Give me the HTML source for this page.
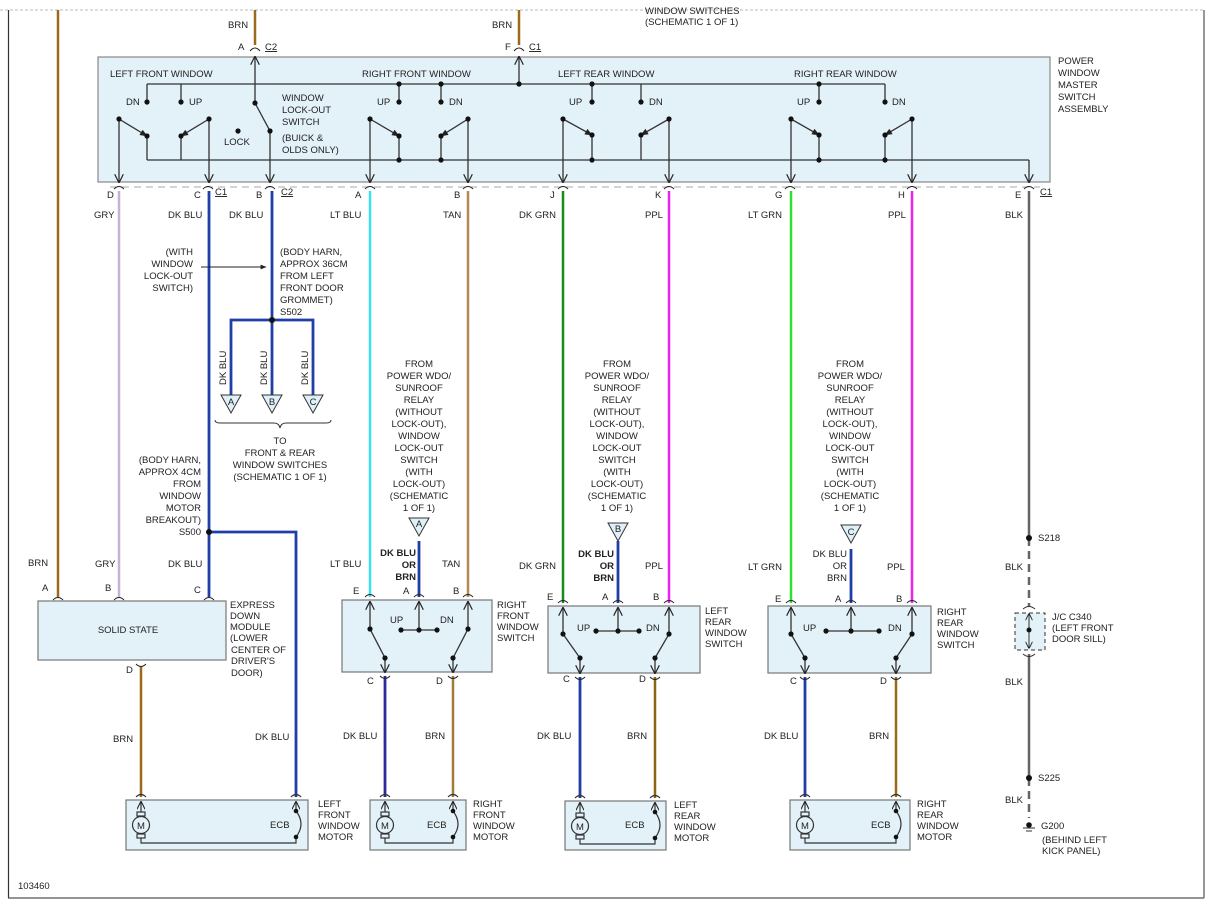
<!DOCTYPE html>
<html><head><meta charset="utf-8">
<style>
html,body{margin:0;padding:0;background:#fff;}
svg{display:block;}
text{font-family:"Liberation Sans",Arial,sans-serif;font-size:9.5px;fill:#222;}
.b{font-weight:bold;}
</style></head><body>
<svg width="1221" height="909" viewBox="0 0 1221 909" xmlns="http://www.w3.org/2000/svg">
<defs>
<marker id="ar" viewBox="0 0 10 10" refX="9" refY="5" markerWidth="7" markerHeight="7" orient="auto-start-reverse"><path d="M0,0 L10,5 L0,10" fill="none" stroke="#222" stroke-width="1.3"/></marker>
<marker id="af" viewBox="0 0 10 10" refX="9" refY="5" markerWidth="6" markerHeight="6" orient="auto"><path d="M0,1 L10,5 L0,9 z" fill="#222"/></marker>
</defs>
<!-- frame -->
<line x1="0" y1="10" x2="1204" y2="10" stroke="#bbb" stroke-dasharray="3,2"/>
<line x1="8.5" y1="10" x2="8.5" y2="898" stroke="#333" stroke-width="1.2"/>
<line x1="1204" y1="10" x2="1204" y2="898" stroke="#555" stroke-width="1.2"/>
<line x1="8" y1="898" x2="1204" y2="898" stroke="#555" stroke-width="1.2"/>
<text x="645" y="14">WINDOW SWITCHES</text>
<text x="645" y="25">(SCHEMATIC 1 OF 1)</text>

<!-- master switch box -->
<rect x="98" y="57" width="952" height="125" fill="#e3f1f8" stroke="#888" stroke-width="1.2"/>
<text x="1058" y="64">POWER</text><text x="1058" y="76">WINDOW</text><text x="1058" y="88">MASTER</text><text x="1058" y="100">SWITCH</text><text x="1058" y="112">ASSEMBLY</text>
<line x1="110" y1="187" x2="1040" y2="187" stroke="#aaa" stroke-dasharray="7,5"/>

<!-- top incoming wires -->
<line x1="255" y1="10" x2="255" y2="45" stroke="#9a6a1a" stroke-width="2.5"/>
<line x1="519" y1="10" x2="519" y2="45" stroke="#9a6a1a" stroke-width="2.5"/>
<text x="228" y="28">BRN</text><text x="492" y="28">BRN</text>
<text x="238" y="50">A</text><text x="265" y="50" text-decoration="underline">C2</text>
<text x="505" y="50">F</text><text x="529" y="50" text-decoration="underline">C1</text>
<path d="M250,51 q5,-6 10,0 M514,51 q5,-6 10,0" fill="none" stroke="#222"/>

<!-- internal circuitry -->
<g stroke="#333" stroke-width="1.3" fill="none">
<line x1="147" y1="84" x2="885" y2="84"/>
<line x1="147" y1="84" x2="147" y2="102"/>
<line x1="885" y1="84" x2="885" y2="102"/>
<line x1="147" y1="160" x2="1029" y2="160"/>
<line x1="1029" y1="160" x2="1029" y2="182" marker-end="url(#ar)"/>
<line x1="181" y1="84" x2="181" y2="102"/>
<line x1="119" y1="119" x2="147" y2="136" marker-end="url(#af)"/>
<line x1="119" y1="119" x2="119" y2="182" marker-end="url(#ar)"/>
<line x1="147" y1="136" x2="147" y2="160"/>
<line x1="209" y1="119" x2="181" y2="136" marker-end="url(#af)"/>
<line x1="209" y1="119" x2="209" y2="182" marker-end="url(#ar)"/>
<line x1="181" y1="136" x2="181" y2="160"/>
<line x1="255" y1="103" x2="255" y2="57" marker-end="url(#ar)"/>
<line x1="255" y1="103" x2="270" y2="131"/>
<line x1="270" y1="131" x2="270" y2="182" marker-end="url(#ar)"/>
<line x1="519" y1="84" x2="519" y2="57" marker-end="url(#ar)"/>
<line x1="399" y1="84" x2="399" y2="102"/><line x1="441" y1="84" x2="441" y2="102"/>
<line x1="370" y1="119" x2="399" y2="136" marker-end="url(#af)"/>
<line x1="370" y1="119" x2="370" y2="182" marker-end="url(#ar)"/>
<line x1="399" y1="136" x2="399" y2="160"/>
<line x1="468" y1="119" x2="441" y2="136" marker-end="url(#af)"/>
<line x1="468" y1="119" x2="468" y2="182" marker-end="url(#ar)"/>
<line x1="441" y1="136" x2="441" y2="160"/>
<line x1="592" y1="84" x2="592" y2="102"/><line x1="641" y1="84" x2="641" y2="102"/>
<line x1="563" y1="119" x2="592" y2="135" marker-end="url(#af)"/>
<line x1="563" y1="119" x2="563" y2="182" marker-end="url(#ar)"/>
<line x1="592" y1="135" x2="592" y2="160"/>
<line x1="669" y1="119" x2="641" y2="135" marker-end="url(#af)"/>
<line x1="669" y1="119" x2="669" y2="182" marker-end="url(#ar)"/>
<line x1="641" y1="135" x2="641" y2="160"/>
<line x1="819" y1="84" x2="819" y2="102"/>
<line x1="791" y1="119" x2="819" y2="135" marker-end="url(#af)"/>
<line x1="791" y1="119" x2="791" y2="182" marker-end="url(#ar)"/>
<line x1="819" y1="135" x2="819" y2="160"/>
<line x1="912" y1="119" x2="885" y2="135" marker-end="url(#af)"/>
<line x1="912" y1="119" x2="912" y2="182" marker-end="url(#ar)"/>
<line x1="885" y1="135" x2="885" y2="160"/>
</g>
<g fill="#111">
<circle cx="147" cy="102" r="2.6"/><circle cx="181" cy="102" r="2.6"/><circle cx="119" cy="119" r="2.6"/><circle cx="147" cy="136" r="2.6"/><circle cx="209" cy="119" r="2.6"/><circle cx="181" cy="136" r="2.6"/>
<circle cx="238" cy="131" r="2.6"/><circle cx="255" cy="103" r="2.6"/><circle cx="270" cy="131" r="2.6"/>
<circle cx="399" cy="84" r="2.6"/><circle cx="441" cy="84" r="2.6"/><circle cx="519" cy="84" r="2.6"/>
<circle cx="399" cy="102" r="2.6"/><circle cx="441" cy="102" r="2.6"/><circle cx="370" cy="119" r="2.6"/><circle cx="399" cy="136" r="2.6"/><circle cx="468" cy="119" r="2.6"/><circle cx="441" cy="136" r="2.6"/><circle cx="399" cy="160" r="2.6"/><circle cx="441" cy="160" r="2.6"/>
<circle cx="592" cy="84" r="2.6"/><circle cx="592" cy="102" r="2.6"/><circle cx="641" cy="102" r="2.6"/><circle cx="563" cy="119" r="2.6"/><circle cx="592" cy="135" r="2.6"/><circle cx="669" cy="119" r="2.6"/><circle cx="641" cy="135" r="2.6"/><circle cx="592" cy="160" r="2.6"/>
<circle cx="819" cy="84" r="2.6"/><circle cx="819" cy="102" r="2.6"/><circle cx="885" cy="102" r="2.6"/><circle cx="791" cy="119" r="2.6"/><circle cx="819" cy="135" r="2.6"/><circle cx="912" cy="119" r="2.6"/><circle cx="885" cy="135" r="2.6"/><circle cx="819" cy="160" r="2.6"/><circle cx="885" cy="160" r="2.6"/>
</g>
<text x="110" y="77">LEFT FRONT WINDOW</text>
<text x="362" y="77">RIGHT FRONT WINDOW</text>
<text x="558" y="77">LEFT REAR WINDOW</text>
<text x="794" y="77">RIGHT REAR WINDOW</text>
<text x="126" y="105">DN</text><text x="189" y="105">UP</text>
<text x="377" y="105">UP</text><text x="449" y="105">DN</text>
<text x="569" y="105">UP</text><text x="649" y="105">DN</text>
<text x="797" y="105">UP</text><text x="892" y="105">DN</text>
<text x="224" y="145">LOCK</text>
<text x="282" y="101">WINDOW</text><text x="282" y="113">LOCK-OUT</text><text x="282" y="125">SWITCH</text><text x="282" y="141">(BUICK &amp;</text><text x="282" y="153">OLDS ONLY)</text>

<g>
<text x="107" y="198">D</text><text x="194" y="198">C</text><text x="215" y="195" text-decoration="underline">C1</text>
<text x="256" y="198">B</text><text x="281" y="195" text-decoration="underline">C2</text>
<text x="355" y="198">A</text><text x="454" y="198">B</text><text x="550" y="198">J</text><text x="655" y="198">K</text>
<text x="775" y="198">G</text><text x="898" y="198">H</text><text x="1015" y="198">E</text><text x="1040" y="195" text-decoration="underline">C1</text>
</g>
<path d="M114,189 q5,-5 10,0 M203,189 q5,-5 10,0 M265,189 q5,-5 10,0 M365,189 q5,-5 10,0 M463,189 q5,-5 10,0 M558,189 q5,-5 10,0 M664,189 q5,-5 10,0 M785,189 q5,-5 10,0 M907,189 q5,-5 10,0 M1024,189 q5,-5 10,0" fill="none" stroke="#222"/>

<!-- boxes drawn before wires -->
<rect x="342" y="600" width="150" height="72" fill="#e3f1f8" stroke="#777" stroke-width="1.2"/>
<rect x="548" y="606" width="152" height="67" fill="#e3f1f8" stroke="#777" stroke-width="1.2"/>
<rect x="768" y="606" width="163" height="67" fill="#e3f1f8" stroke="#777" stroke-width="1.2"/>

<!-- wires -->
<line x1="58" y1="10" x2="58" y2="597" stroke="#9a6a1a" stroke-width="2.5"/>
<line x1="119" y1="191" x2="119" y2="597" stroke="#c9b0d6" stroke-width="2.5"/>
<line x1="209" y1="191" x2="209" y2="597" stroke="#1f3fa8" stroke-width="2.8"/>
<polyline points="209,532 296,532 296,797" fill="none" stroke="#1f3fa8" stroke-width="2.8"/>
<line x1="272" y1="191" x2="272" y2="320" stroke="#1f3fa8" stroke-width="2.8"/>
<polyline points="231,397 231,320 313,320 313,397" fill="none" stroke="#1f3fa8" stroke-width="2.8"/>
<line x1="272" y1="320" x2="272" y2="397" stroke="#1f3fa8" stroke-width="2.8"/>
<line x1="370" y1="191" x2="370" y2="597" stroke="#3fe0ee" stroke-width="2.5"/>
<line x1="468" y1="191" x2="468" y2="597" stroke="#b38a56" stroke-width="2.5"/>
<line x1="419" y1="541" x2="419" y2="597" stroke="#1f3fa8" stroke-width="2.8"/>
<line x1="563" y1="191" x2="563" y2="603" stroke="#188a18" stroke-width="2.5"/>
<line x1="669" y1="191" x2="669" y2="603" stroke="#ee22ee" stroke-width="2.5"/>
<line x1="618" y1="541" x2="618" y2="603" stroke="#1f3fa8" stroke-width="2.8"/>
<line x1="791" y1="191" x2="791" y2="603" stroke="#33dd33" stroke-width="2.5"/>
<line x1="912" y1="191" x2="912" y2="603" stroke="#ee22ee" stroke-width="2.5"/>
<line x1="851" y1="549" x2="851" y2="603" stroke="#1f3fa8" stroke-width="2.8"/>
<line x1="1029" y1="191" x2="1029" y2="538" stroke="#666" stroke-width="2.5"/>
<line x1="1029" y1="538" x2="1029" y2="607" stroke="#666" stroke-width="2.5" stroke-dasharray="8,5"/>
<line x1="1029" y1="654" x2="1029" y2="778" stroke="#666" stroke-width="2.5"/>
<line x1="1029" y1="778" x2="1029" y2="818" stroke="#666" stroke-width="2.5" stroke-dasharray="8,5"/>
<line x1="141" y1="667" x2="141" y2="797" stroke="#9a6a1a" stroke-width="2.5"/>
<line x1="385" y1="676" x2="385" y2="797" stroke="#2a2a9a" stroke-width="2.8"/>
<line x1="453" y1="676" x2="453" y2="797" stroke="#a07c3a" stroke-width="2.5"/>
<line x1="580" y1="677" x2="580" y2="798" stroke="#1f3fa8" stroke-width="2.8"/>
<line x1="655" y1="677" x2="655" y2="798" stroke="#8b6414" stroke-width="2.5"/>
<line x1="805" y1="677" x2="805" y2="797" stroke="#1f3fa8" stroke-width="2.8"/>
<line x1="896" y1="677" x2="896" y2="797" stroke="#9a6a1a" stroke-width="2.5"/>

<text x="94" y="218">GRY</text><text x="168" y="218">DK BLU</text><text x="229" y="218">DK BLU</text>
<text x="330" y="218">LT BLU</text><text x="443" y="218">TAN</text><text x="519" y="218">DK GRN</text>
<text x="645" y="218">PPL</text><text x="748" y="218">LT GRN</text><text x="888" y="218">PPL</text><text x="1005" y="218">BLK</text>

<g text-anchor="end">
<text x="193" y="255">(WITH</text><text x="193" y="267">WINDOW</text><text x="193" y="279">LOCK-OUT</text><text x="193" y="291">SWITCH)</text>
<text x="201" y="463">(BODY HARN,</text><text x="201" y="475">APPROX 4CM</text><text x="201" y="487">FROM</text><text x="201" y="499">WINDOW</text><text x="201" y="511">MOTOR</text><text x="201" y="523">BREAKOUT)</text><text x="201" y="535">S500</text>
</g>
<line x1="201" y1="267" x2="266" y2="267" stroke="#222" marker-end="url(#af)"/>
<text x="280" y="255">(BODY HARN,</text><text x="280" y="267">APPROX 36CM</text><text x="280" y="279">FROM LEFT</text><text x="280" y="291">FRONT DOOR</text><text x="280" y="303">GROMMET)</text><text x="280" y="315">S502</text>
<circle cx="272" cy="320" r="3" fill="#111"/><circle cx="209" cy="532" r="3" fill="#111"/>
<g font-size="9">
<text transform="translate(226,385) rotate(-90)">DK BLU</text>
<text transform="translate(267,385) rotate(-90)">DK BLU</text>
<text transform="translate(308,385) rotate(-90)">DK BLU</text>
</g>
<g fill="#dff0f8" stroke="#333">
<path d="M221,395 L241,395 L231,413 z"/><path d="M262,395 L282,395 L272,413 z"/><path d="M303,395 L323,395 L313,413 z"/>
<path d="M409,518 L429,518 L419,536 z"/><path d="M608,523 L628,523 L618,541 z"/><path d="M841,525 L861,525 L851,543 z"/>
</g>
<g text-anchor="middle" font-size="8">
<text x="231" y="405">A</text><text x="272" y="405">B</text><text x="313" y="405">C</text>
<text x="419" y="527">A</text><text x="618" y="532">B</text><text x="851" y="535">C</text>
</g>
<path d="M215,420 q0,3 5,3 L274,423 q5,0 6,5 q1,-5 6,-5 L326,423 q5,0 5,-3" fill="none" stroke="#333"/>
<g text-anchor="middle">
<text x="280" y="444">TO</text><text x="280" y="456">FRONT &amp; REAR</text><text x="280" y="468">WINDOW SWITCHES</text><text x="280" y="480">(SCHEMATIC 1 OF 1)</text>
</g>

<g text-anchor="middle">
<text x="419" y="367">FROM</text><text x="419" y="379">POWER WDO/</text><text x="419" y="391">SUNROOF</text><text x="419" y="403">RELAY</text><text x="419" y="415">(WITHOUT</text><text x="419" y="427">LOCK-OUT),</text><text x="419" y="439">WINDOW</text><text x="419" y="451">LOCK-OUT</text><text x="419" y="463">SWITCH</text><text x="419" y="475">(WITH</text><text x="419" y="487">LOCK-OUT)</text><text x="419" y="499">(SCHEMATIC</text><text x="419" y="511">1 OF 1)</text>
<text x="617" y="367">FROM</text><text x="617" y="379">POWER WDO/</text><text x="617" y="391">SUNROOF</text><text x="617" y="403">RELAY</text><text x="617" y="415">(WITHOUT</text><text x="617" y="427">LOCK-OUT),</text><text x="617" y="439">WINDOW</text><text x="617" y="451">LOCK-OUT</text><text x="617" y="463">SWITCH</text><text x="617" y="475">(WITH</text><text x="617" y="487">LOCK-OUT)</text><text x="617" y="499">(SCHEMATIC</text><text x="617" y="511">1 OF 1)</text>
<text x="850" y="367">FROM</text><text x="850" y="379">POWER WDO/</text><text x="850" y="391">SUNROOF</text><text x="850" y="403">RELAY</text><text x="850" y="415">(WITHOUT</text><text x="850" y="427">LOCK-OUT),</text><text x="850" y="439">WINDOW</text><text x="850" y="451">LOCK-OUT</text><text x="850" y="463">SWITCH</text><text x="850" y="475">(WITH</text><text x="850" y="487">LOCK-OUT)</text><text x="850" y="499">(SCHEMATIC</text><text x="850" y="511">1 OF 1)</text>
</g>
<g text-anchor="end">
<text class="b" x="416" y="556">DK BLU</text><text class="b" x="416" y="568">OR</text><text class="b" x="416" y="580">BRN</text>
<text class="b" x="614" y="557">DK BLU</text><text class="b" x="614" y="569">OR</text><text class="b" x="614" y="581">BRN</text>
<text x="847" y="557">DK BLU</text><text x="847" y="569">OR</text><text x="847" y="581">BRN</text>
</g>
<text x="330" y="567">LT BLU</text><text x="442" y="567">TAN</text>
<text x="519" y="569">DK GRN</text><text x="645" y="569">PPL</text>
<text x="748" y="570">LT GRN</text><text x="887" y="570">PPL</text>
<text x="28" y="566">BRN</text><text x="95" y="567">GRY</text><text x="168" y="567">DK BLU</text>

<text x="42" y="591">A</text><text x="105" y="591">B</text><text x="194" y="593">C</text>
<path d="M53,600 q5,-5 10,0 M114,600 q5,-5 10,0 M204,600 q5,-5 10,0" fill="none" stroke="#222"/>
<rect x="38" y="601" width="188" height="59" fill="#e3f1f8" stroke="#777" stroke-width="1.2"/>
<text x="128" y="633" text-anchor="middle">SOLID STATE</text>
<text x="230" y="608">EXPRESS</text><text x="230" y="619">DOWN</text><text x="230" y="630">MODULE</text><text x="230" y="641">(LOWER</text><text x="231" y="653">CENTER OF</text><text x="231" y="664">DRIVER'S</text><text x="231" y="676">DOOR)</text>
<text x="126" y="673">D</text>
<path d="M136,664 q5,5 10,0" fill="none" stroke="#222"/>
<text x="113" y="742">BRN</text><text x="255" y="740">DK BLU</text>

<text x="353" y="594">E</text><text x="403" y="594">A</text><text x="453" y="594">B</text>
<path d="M365,597 q5,-5 10,0 M414,597 q5,-5 10,0 M463,597 q5,-5 10,0" fill="none" stroke="#222"/>
<g stroke="#333" stroke-width="1.3" fill="none">
<line x1="370" y1="629" x2="370" y2="602" marker-end="url(#ar)"/><line x1="370" y1="629" x2="385" y2="658"/><line x1="385" y1="658" x2="385" y2="672" marker-end="url(#ar)"/>
<line x1="468" y1="629" x2="468" y2="602" marker-end="url(#ar)"/><line x1="468" y1="629" x2="453" y2="658"/><line x1="453" y1="658" x2="453" y2="672" marker-end="url(#ar)"/>
<line x1="401" y1="630" x2="437" y2="630"/><line x1="419" y1="630" x2="419" y2="602" marker-end="url(#ar)"/>
<path d="M380,676 q5,5 10,0 M448,676 q5,5 10,0" stroke="#222" stroke-width="1"/>
<line x1="563" y1="634" x2="563" y2="608" marker-end="url(#ar)"/><line x1="563" y1="634" x2="580" y2="658"/><line x1="580" y1="658" x2="580" y2="673" marker-end="url(#ar)"/>
<line x1="669" y1="634" x2="669" y2="608" marker-end="url(#ar)"/><line x1="669" y1="634" x2="655" y2="658"/><line x1="655" y1="658" x2="655" y2="673" marker-end="url(#ar)"/>
<line x1="596" y1="631" x2="639" y2="631"/><line x1="618" y1="631" x2="618" y2="608" marker-end="url(#ar)"/>
<path d="M575,677 q5,5 10,0 M650,677 q5,5 10,0" stroke="#222" stroke-width="1"/>
<line x1="791" y1="634" x2="791" y2="608" marker-end="url(#ar)"/><line x1="791" y1="634" x2="805" y2="658"/><line x1="805" y1="658" x2="805" y2="673" marker-end="url(#ar)"/>
<line x1="912" y1="634" x2="912" y2="608" marker-end="url(#ar)"/><line x1="912" y1="634" x2="896" y2="658"/><line x1="896" y1="658" x2="896" y2="673" marker-end="url(#ar)"/>
<line x1="826" y1="631" x2="879" y2="631"/><line x1="851" y1="631" x2="851" y2="608" marker-end="url(#ar)"/>
<path d="M800,677 q5,5 10,0 M891,677 q5,5 10,0" stroke="#222" stroke-width="1"/>
</g>
<text x="547" y="600">E</text><text x="602" y="600">A</text><text x="653" y="600">B</text>
<text x="775" y="602">E</text><text x="835" y="602">A</text><text x="896" y="602">B</text>
<path d="M558,603 q5,-5 10,0 M613,603 q5,-5 10,0 M664,603 q5,-5 10,0 M786,603 q5,-5 10,0 M846,603 q5,-5 10,0 M907,603 q5,-5 10,0" fill="none" stroke="#222"/>
<g fill="#111">
<circle cx="370" cy="629" r="2.6"/><circle cx="385" cy="658" r="2.6"/><circle cx="468" cy="629" r="2.6"/><circle cx="453" cy="658" r="2.6"/><circle cx="401" cy="630" r="2.6"/><circle cx="419" cy="630" r="2.6"/><circle cx="437" cy="630" r="2.6"/>
<circle cx="563" cy="634" r="2.6"/><circle cx="580" cy="658" r="2.6"/><circle cx="669" cy="634" r="2.6"/><circle cx="655" cy="658" r="2.6"/><circle cx="596" cy="631" r="2.6"/><circle cx="618" cy="631" r="2.6"/><circle cx="639" cy="631" r="2.6"/>
<circle cx="791" cy="634" r="2.6"/><circle cx="805" cy="658" r="2.6"/><circle cx="912" cy="634" r="2.6"/><circle cx="896" cy="658" r="2.6"/><circle cx="826" cy="631" r="2.6"/><circle cx="851" cy="631" r="2.6"/><circle cx="879" cy="631" r="2.6"/>
</g>
<text x="390" y="623">UP</text><text x="440" y="623">DN</text>
<text x="577" y="631">UP</text><text x="646" y="631">DN</text>
<text x="803" y="631">UP</text><text x="888" y="631">DN</text>
<text x="497" y="608">RIGHT</text><text x="497" y="619">FRONT</text><text x="497" y="630">WINDOW</text><text x="497" y="641">SWITCH</text>
<text x="705" y="614">LEFT</text><text x="705" y="625">REAR</text><text x="705" y="636">WINDOW</text><text x="705" y="647">SWITCH</text>
<text x="937" y="615">RIGHT</text><text x="937" y="626">REAR</text><text x="937" y="637">WINDOW</text><text x="937" y="648">SWITCH</text>
<text x="367" y="684">C</text><text x="436" y="684">D</text>
<text x="563" y="682">C</text><text x="639" y="682">D</text>
<text x="790" y="684">C</text><text x="880" y="684">D</text>
<text x="343" y="739">DK BLU</text><text x="425" y="739">BRN</text>
<text x="537" y="739">DK BLU</text><text x="627" y="739">BRN</text>
<text x="764" y="739">DK BLU</text><text x="869" y="739">BRN</text>

<g>
<rect x="126" y="800" width="182" height="50" fill="#e3f1f8" stroke="#777" stroke-width="1.2"/>
<rect x="370" y="800" width="96" height="50" fill="#e3f1f8" stroke="#777" stroke-width="1.2"/>
<rect x="565" y="801" width="101" height="49" fill="#e3f1f8" stroke="#777" stroke-width="1.2"/>
<rect x="790" y="800" width="120" height="50" fill="#e3f1f8" stroke="#777" stroke-width="1.2"/>
</g>
<g stroke="#333" stroke-width="1.2" fill="none">
<path d="M136,797 q5,-5 10,0 M291,797 q5,-5 10,0 M380,797 q5,-5 10,0 M448,797 q5,-5 10,0 M575,798 q5,-5 10,0 M650,798 q5,-5 10,0 M800,797 q5,-5 10,0 M891,797 q5,-5 10,0"/>
<line x1="141" y1="812" x2="141" y2="802" marker-end="url(#ar)"/><rect x="137" y="812" width="8" height="4"/><circle cx="141" cy="825" r="8.5"/><rect x="137" y="834" width="8" height="4"/><polyline points="141,838 141,843 296,843 296,838"/>
<line x1="296" y1="811" x2="296" y2="802" marker-end="url(#ar)"/><path d="M296,811 q10,13 0,26"/>
<line x1="385" y1="812" x2="385" y2="802" marker-end="url(#ar)"/><rect x="381" y="812" width="8" height="4"/><circle cx="385" cy="825" r="8.5"/><rect x="381" y="834" width="8" height="4"/><polyline points="385,838 385,843 453,843 453,838"/>
<line x1="453" y1="811" x2="453" y2="802" marker-end="url(#ar)"/><path d="M453,811 q10,13 0,26"/>
<line x1="580" y1="813" x2="580" y2="803" marker-end="url(#ar)"/><rect x="576" y="813" width="8" height="4"/><circle cx="580" cy="826" r="8.5"/><rect x="576" y="835" width="8" height="4"/><polyline points="580,839 580,844 655,844 655,839"/>
<line x1="655" y1="812" x2="655" y2="803" marker-end="url(#ar)"/><path d="M655,812 q10,13 0,26"/>
<line x1="805" y1="812" x2="805" y2="802" marker-end="url(#ar)"/><rect x="801" y="812" width="8" height="4"/><circle cx="805" cy="825" r="8.5"/><rect x="801" y="834" width="8" height="4"/><polyline points="805,838 805,843 896,843 896,838"/>
<line x1="896" y1="811" x2="896" y2="802" marker-end="url(#ar)"/><path d="M896,811 q10,13 0,26"/>
</g>
<g fill="#111">
<circle cx="296" cy="811" r="2.3"/><circle cx="296" cy="837" r="2.3"/><circle cx="453" cy="811" r="2.3"/><circle cx="453" cy="837" r="2.3"/>
<circle cx="655" cy="812" r="2.3"/><circle cx="655" cy="838" r="2.3"/><circle cx="896" cy="811" r="2.3"/><circle cx="896" cy="837" r="2.3"/>
</g>
<g text-anchor="middle" font-size="11"><text x="141" y="829">M</text><text x="385" y="829">M</text><text x="580" y="830">M</text><text x="805" y="829">M</text></g>
<text x="270" y="828">ECB</text><text x="427" y="828">ECB</text><text x="625" y="828">ECB</text><text x="871" y="828">ECB</text>
<text x="318" y="807">LEFT</text><text x="318" y="818">FRONT</text><text x="318" y="829">WINDOW</text><text x="318" y="840">MOTOR</text>
<text x="473" y="807">RIGHT</text><text x="473" y="818">FRONT</text><text x="473" y="829">WINDOW</text><text x="473" y="840">MOTOR</text>
<text x="674" y="808">LEFT</text><text x="674" y="819">REAR</text><text x="674" y="830">WINDOW</text><text x="674" y="841">MOTOR</text>
<text x="917" y="807">RIGHT</text><text x="917" y="818">REAR</text><text x="917" y="829">WINDOW</text><text x="917" y="840">MOTOR</text>

<circle cx="1029" cy="538" r="3" fill="#111"/><text x="1038" y="541">S218</text>
<text x="1005" y="570">BLK</text>
<rect x="1015" y="613" width="30" height="37" fill="#e3f1f8" stroke="#333" stroke-dasharray="4,3"/>
<path d="M1023,609 q6,-5 12,0 M1023,654 q6,5 12,0" fill="none" stroke="#333"/>
<line x1="1029" y1="630" x2="1029" y2="614" stroke="#333" marker-end="url(#ar)"/>
<line x1="1029" y1="630" x2="1029" y2="648" stroke="#333" marker-end="url(#ar)"/>
<circle cx="1029" cy="630" r="2.5" fill="#111"/>
<text x="1052" y="620">J/C C340</text><text x="1052" y="631">(LEFT FRONT</text><text x="1052" y="642">DOOR SILL)</text>
<text x="1005" y="685">BLK</text>
<circle cx="1029" cy="778" r="3" fill="#111"/><text x="1038" y="781">S225</text>
<text x="1005" y="803">BLK</text>
<circle cx="1029" cy="825" r="2.8" fill="#111"/>
<line x1="1023" y1="828" x2="1035" y2="828" stroke="#333"/><line x1="1026" y1="831" x2="1032" y2="831" stroke="#333"/>
<text x="1041" y="829">G200</text><text x="1042" y="843">(BEHIND LEFT</text><text x="1042" y="854">KICK PANEL)</text>

<text x="18" y="889" font-size="9">103460</text>
</svg>
</body></html>
